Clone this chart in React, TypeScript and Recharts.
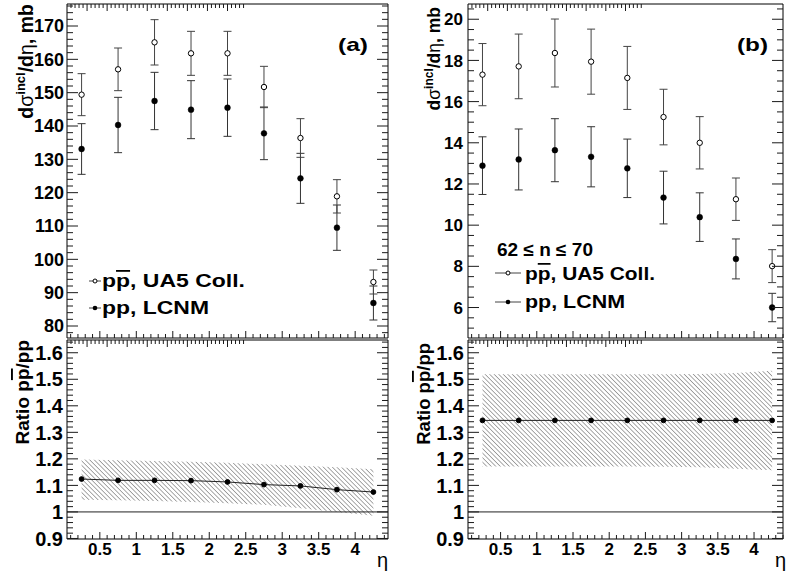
import React from 'react'
import { Area, ComposedChart, ErrorBar, Line, ReferenceLine, Scatter, XAxis, YAxis } from 'recharts'

// pseudorapidity bin centres
const eta = [0.25, 0.75, 1.25, 1.75, 2.25, 2.75, 3.25, 3.75, 4.25]

// panel (a): inclusive
const ua5A = [149.4, 157.0, 165.1, 161.8, 161.8, 151.7, 136.4, 118.9, 93.2]
const ua5AErr = [6.3, 6.4, 6.8, 6.6, 6.6, 6.2, 5.8, 5.0, 3.6]
const lcnmA = [133.1, 140.3, 147.5, 144.9, 145.5, 137.8, 124.3, 109.5, 86.9]
const lcnmAErr = [7.6, 8.3, 8.6, 8.7, 8.6, 7.9, 7.5, 6.8, 5.1]
const ratioA = [1.124, 1.119, 1.119, 1.118, 1.113, 1.103, 1.098, 1.084, 1.075]
const bandAHi = [1.198, 1.195, 1.192, 1.189, 1.185, 1.180, 1.174, 1.168, 1.161]
const bandALo = [1.046, 1.044, 1.041, 1.037, 1.033, 1.027, 1.014, 1.0, 0.986]

// panel (b): 62 <= n <= 70
const ua5B = [17.31, 17.71, 18.36, 17.94, 17.15, 15.25, 14.0, 11.26, 8.01]
const ua5BErr = [1.51, 1.57, 1.65, 1.58, 1.53, 1.35, 1.27, 1.03, 0.8]
const lcnmB = [12.89, 13.19, 13.64, 13.32, 12.76, 11.34, 10.39, 8.36, 6.0]
const lcnmBErr = [1.4, 1.48, 1.53, 1.46, 1.42, 1.28, 1.18, 0.97, 0.69]
const ratioB = [1.345, 1.345, 1.345, 1.345, 1.345, 1.345, 1.345, 1.345, 1.345]
const bandBHi = [1.519, 1.519, 1.519, 1.519, 1.519, 1.519, 1.52, 1.524, 1.532]
const bandBLo = [1.171, 1.171, 1.171, 1.171, 1.171, 1.17, 1.168, 1.163, 1.157]

// labelled (major) tick values
const xMajor = [0.5, 1, 1.5, 2, 2.5, 3, 3.5, 4]
const yMajorA = [80, 90, 100, 110, 120, 130, 140, 150, 160, 170]
const yMajorB = [6, 8, 10, 12, 14, 16, 18, 20]
const yMajorR = [0.9, 1, 1.1, 1.2, 1.3, 1.4, 1.5, 1.6]

const steps = (from: number, to: number, step: number) => {
  const out: number[] = []
  const n = Math.round((to - from) / step)
  for (let i = 0; i <= n; i++) out.push(+(from + i * step).toFixed(4))
  return out
}
const xTicks = steps(0.1, 4.4, 0.1)
const yTicksA = steps(78, 176, 2)
const yTicksB = steps(5, 20.5, 0.5)
const yTicksR = steps(0.9, 1.64, 0.02)

const topA = eta.map((e, i) => ({ eta: e, ua: ua5A[i], uaErr: ua5AErr[i], lc: lcnmA[i], lcErr: lcnmAErr[i] }))
const topB = eta.map((e, i) => ({ eta: e, ua: ua5B[i], uaErr: ua5BErr[i], lc: lcnmB[i], lcErr: lcnmBErr[i] }))
const botA = eta.map((e, i) => ({ eta: e, ratio: ratioA[i], band: [bandALo[i], bandAHi[i]] }))
const botB = eta.map((e, i) => ({ eta: e, ratio: ratioB[i], band: [bandBLo[i], bandBHi[i]] }))

const FONT = '"Liberation Sans", Arial, Helvetica, sans-serif'
const INK = '#1a1a1a'

type Side = 'left' | 'right' | 'top' | 'bottom'
const makeTick = (side: Side, majors: number[], majLen: number, minLen: number, fontSize = 0, gap = 4) =>
  (p: any) => {
    const v = Number(p.payload.value)
    const isMajor = majors.some((m) => Math.abs(m - v) < 1e-6)
    const len = isMajor ? majLen : minLen
    const x = Number(p.x)
    const y = Number(p.y)
    let d = ''
    if (side === 'left') d = `M${x},${y}H${x + len}`
    else if (side === 'right') d = `M${x},${y}H${x - len}`
    else if (side === 'top') d = `M${x},${y}V${y + len}`
    else d = `M${x},${y}V${y - len}`
    let label = null
    if (fontSize && isMajor) {
      const txt = String(+v.toFixed(2))
      if (side === 'left')
        label = <text x={x - gap} y={y} dy="0.36em" textAnchor="end" fontSize={fontSize} fontWeight="bold" fill="#000" fontFamily={FONT}>{txt}</text>
      else
        label = <text x={x} y={y + gap} textAnchor="middle" fontSize={fontSize} fontWeight="bold" fill="#000" fontFamily={FONT}>{txt}</text>
    }
    return (
      <g>
        <path d={d} stroke={INK} strokeWidth={1} fill="none" />
        {label}
      </g>
    )
  }

const openDot = (p: any) => <circle cx={p.cx} cy={p.cy} r={2.7} fill="#fff" stroke="#000" strokeWidth={1} />
const fullDot = (p: any) => <circle cx={p.cx} cy={p.cy} r={2.9} fill="#000" stroke="#000" strokeWidth={0.5} />

const frameLine = { stroke: '#000', strokeWidth: 1 }

function TopPanel(props: { data: any[]; yDomain: number[]; yTicks: number[]; yMajor: number[]; yWidth: number; right: number; xDomain: number[]; labelSize: number; gap: number; width: number }) {
  const { data, yDomain, yTicks, yMajor, yWidth, right, xDomain, labelSize, gap, width } = props
  return (
    <ComposedChart width={width} height={340} data={data} margin={{ top: 3, right, bottom: 1, left: 0 }}>
      <XAxis dataKey="eta" type="number" domain={xDomain} allowDataOverflow ticks={xTicks} interval={0} height={1}
        stroke="#000" tickSize={0} tickMargin={0} tickLine={false} axisLine={frameLine} tick={makeTick('bottom', xMajor, 7, 4)} />
      <XAxis xAxisId="t" orientation="top" type="number" domain={xDomain} allowDataOverflow ticks={xTicks} interval={0} height={1}
        stroke="#000" tickSize={0} tickMargin={0} tickLine={false} axisLine={frameLine} tick={makeTick('top', xMajor, 7, 4)} />
      <YAxis type="number" domain={yDomain} allowDataOverflow ticks={yTicks} interval={0} width={yWidth}
        stroke="#000" tickSize={0} tickMargin={0} tickLine={false} axisLine={frameLine} tick={makeTick('left', yMajor, 11, 6, labelSize, gap)} />
      <YAxis yAxisId="r" orientation="right" type="number" domain={yDomain} allowDataOverflow ticks={yTicks} interval={0} width={1}
        stroke="#000" tickSize={0} tickMargin={0} tickLine={false} axisLine={frameLine} tick={makeTick('right', yMajor, 11, 6)} />
      <Scatter data={data} dataKey="lc" shape={fullDot} isAnimationActive={false}>
        <ErrorBar dataKey="lcErr" direction="y" width={4} stroke="#333" strokeWidth={1} />
      </Scatter>
      <Scatter data={data} dataKey="ua" shape={openDot} isAnimationActive={false}>
        <ErrorBar dataKey="uaErr" direction="y" width={4} stroke="#444" strokeWidth={1} />
      </Scatter>
    </ComposedChart>
  )
}

function RatioPanel(props: { data: any[]; id: string; yWidth: number; right: number; xDomain: number[]; width: number }) {
  const { data, id, yWidth, right, xDomain, width } = props
  const yDomain = [0.898, 1.648]
  return (
    <ComposedChart width={width} height={239} data={data} margin={{ top: 0, right, bottom: 0, left: 0 }}>
      <defs>
        <pattern id={id} patternUnits="userSpaceOnUse" width={3.2} height={3.2} patternTransform="rotate(-45)">
          <line x1={0} y1={0} x2={0} y2={3.2} stroke="#555" strokeWidth={1} />
        </pattern>
      </defs>
      <XAxis dataKey="eta" type="number" domain={xDomain} allowDataOverflow ticks={xTicks} interval={0} height={39}
        stroke="#000" tickSize={0} tickMargin={0} tickLine={false} axisLine={frameLine} tick={makeTick('bottom', xMajor, 7, 4, 17, 16)} />
      <XAxis xAxisId="t" orientation="top" type="number" domain={xDomain} allowDataOverflow ticks={xTicks} interval={0} height={1}
        stroke="#000" tickSize={0} tickMargin={0} tickLine={false} axisLine={frameLine} tick={makeTick('top', xMajor, 7, 4)} />
      <YAxis type="number" domain={yDomain} allowDataOverflow ticks={yTicksR} interval={0} width={yWidth}
        stroke="#000" tickSize={0} tickMargin={0} tickLine={false} axisLine={frameLine} tick={makeTick('left', yMajorR, 11, 6, 20, 4)} />
      <YAxis yAxisId="r" orientation="right" type="number" domain={yDomain} allowDataOverflow ticks={yTicksR} interval={0} width={1}
        stroke="#000" tickSize={0} tickMargin={0} tickLine={false} axisLine={frameLine} tick={makeTick('right', yMajorR, 11, 6)} />
      <Area dataKey="band" type="linear" stroke="none" fill={`url(#${id})`} fillOpacity={1} isAnimationActive={false} />
      <ReferenceLine y={1} stroke="#222" strokeWidth={1} />
      <Line dataKey="ratio" type="linear" stroke="#222" strokeWidth={1}
        dot={{ r: 2.4, fill: '#000', stroke: '#000', strokeWidth: 1 }} isAnimationActive={false} />
    </ComposedChart>
  )
}

const OL = { textDecoration: 'overline' } as React.CSSProperties

export default function App() {
  return (
    <div style={{ position: 'absolute', left: 0, top: 0, width: 789, height: 578, background: '#fff', fontFamily: FONT }}>
      <div style={{ position: 'absolute', left: 0, top: 0 }}>
        <TopPanel data={topA} yDomain={[76.4, 176.6]} yTicks={yTicksA} yMajor={yMajorA} yWidth={67} right={11}
          xDomain={[0.05, 4.45]} labelSize={18} gap={3} width={400} />
      </div>
      <div style={{ position: 'absolute', left: 395, top: 0 }}>
        <TopPanel data={topB} yDomain={[4.52, 20.74]} yTicks={yTicksB} yMajor={yMajorB} yWidth={73} right={5}
          xDomain={[0.05, 4.4]} labelSize={17} gap={5} width={394} />
      </div>
      <div style={{ position: 'absolute', left: 0, top: 339 }}>
        <RatioPanel data={botA} id="hatchA" yWidth={67} right={11} xDomain={[0.05, 4.45]} width={400} />
      </div>
      <div style={{ position: 'absolute', left: 395, top: 339 }}>
        <RatioPanel data={botB} id="hatchB" yWidth={73} right={5} xDomain={[0.05, 4.4]} width={394} />
      </div>
      <svg width={789} height={578} style={{ position: 'absolute', left: 0, top: 0, pointerEvents: 'none' }}
        fontFamily={FONT} fontWeight="bold" fill="#000">
        {/* axis titles */}
        <text transform="rotate(-90 33 4)" x={33} y={4} textAnchor="end" fontSize={19.5}>
          d<tspan fontWeight="normal">σ</tspan><tspan fontSize={13} dy={-8}>incl</tspan><tspan dy={8}>/d</tspan><tspan fontWeight="normal">η</tspan>, mb
        </text>
        <text transform="rotate(-90 440 7)" x={440} y={7} textAnchor="end" fontSize={17.5}>
          d<tspan fontWeight="normal">σ</tspan><tspan fontSize={12} dy={-7}>incl</tspan><tspan dy={7}>/d</tspan><tspan fontWeight="normal">η</tspan>, mb
        </text>
        <text transform="rotate(-90 29 340)" x={29} y={340} textAnchor="end" fontSize={19}>
          Ratio p<tspan style={OL}>p</tspan>/pp
        </text>
        <text transform="rotate(-90 430 343)" x={430} y={343} textAnchor="end" fontSize={18.5}>
          Ratio p<tspan style={OL}>p</tspan>/pp
        </text>
        <text x={388} y={567} textAnchor="end" fontSize={20} fontWeight="normal">η</text>
        <text x={786} y={567} textAnchor="end" fontSize={20} fontWeight="normal">η</text>

        {/* panel tags */}
        <text x={338} y={51} fontSize={19} textLength={30} lengthAdjust="spacingAndGlyphs">(a)</text>
        <text x={737} y={51} fontSize={19} textLength={31} lengthAdjust="spacingAndGlyphs">(b)</text>

        {/* legend (a) */}
        <line x1={89} x2={101} y1={281} y2={281} stroke="#444" />
        <circle cx={95} cy={281} r={2} fill="#fff" stroke="#000" />
        <text x={102} y={287} fontSize={18} textLength={143} lengthAdjust="spacingAndGlyphs">
          p<tspan style={OL}>p</tspan>, UA5 Coll.
        </text>
        <line x1={89} x2={101} y1={308} y2={308} stroke="#444" />
        <circle cx={95} cy={308} r={2.3} fill="#000" />
        <text x={102} y={314} fontSize={18.5} textLength={107} lengthAdjust="spacingAndGlyphs">pp, LCNM</text>

        {/* legend (b) */}
        <text x={497} y={256} fontSize={18} textLength={96} lengthAdjust="spacingAndGlyphs">62 ≤ n ≤ 70</text>
        <line x1={495} x2={521} y1={273} y2={273} stroke="#444" />
        <circle cx={508} cy={273} r={2} fill="#fff" stroke="#000" />
        <text x={525} y={280} fontSize={17.5} textLength={130} lengthAdjust="spacingAndGlyphs">
          p<tspan style={OL}>p</tspan>, UA5 Coll.
        </text>
        <line x1={495} x2={521} y1={302} y2={302} stroke="#444" />
        <circle cx={508} cy={302} r={2.3} fill="#000" />
        <text x={525} y={308} fontSize={17.5} textLength={100} lengthAdjust="spacingAndGlyphs">pp, LCNM</text>
      </svg>
    </div>
  )
}
